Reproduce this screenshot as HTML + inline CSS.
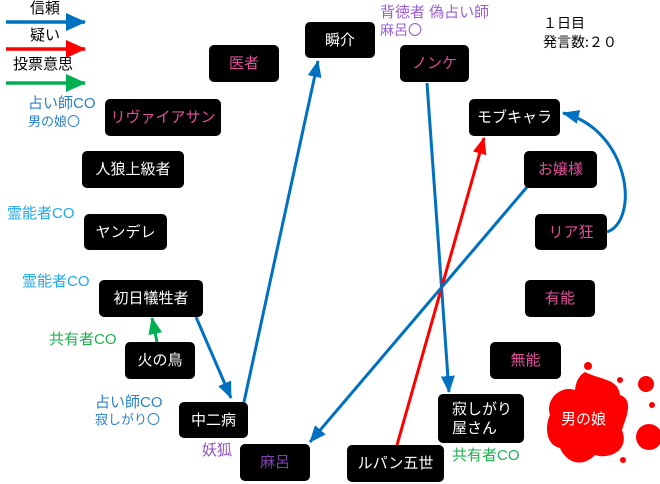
<!DOCTYPE html>
<html><head><meta charset="utf-8"><style>
body{margin:0;width:660px;height:484px;background:#fff;position:relative;overflow:hidden;font-family:"Liberation Sans","Noto Sans CJK JP",sans-serif}
.b{position:absolute;background:#000;border-radius:5px;color:#fff;font-size:15px;display:flex;align-items:center;justify-content:center;text-align:center;line-height:19px}
.p{color:#e0509a}.v{color:#8040b0}
.t{position:absolute;font-size:15px;line-height:16px;white-space:nowrap}
.c{font-family:"Noto Sans CJK JP",sans-serif}
svg{position:absolute;left:0;top:0}
</style></head><body>
<svg width="660" height="484">
<defs>
<marker id="mb" markerUnits="userSpaceOnUse" markerWidth="17" markerHeight="14" refX="16" refY="7" orient="auto"><path d="M0,0 L17,7 L0,14z" fill="#0070c0"/></marker>
<marker id="mr" markerUnits="userSpaceOnUse" markerWidth="17" markerHeight="14" refX="16" refY="7" orient="auto"><path d="M0,0 L17,7 L0,14z" fill="#ff0000"/></marker>
<marker id="mg" markerUnits="userSpaceOnUse" markerWidth="17" markerHeight="14" refX="16" refY="7" orient="auto"><path d="M0,0 L17,7 L0,14z" fill="#00b050"/></marker>
<marker id="lb" markerUnits="userSpaceOnUse" markerWidth="20" markerHeight="18" refX="19" refY="9" orient="auto"><path d="M0,0 L20,9 L0,18z" fill="#0070c0"/></marker>
<marker id="lr" markerUnits="userSpaceOnUse" markerWidth="20" markerHeight="18" refX="19" refY="9" orient="auto"><path d="M0,0 L20,9 L0,18z" fill="#ff0000"/></marker>
<marker id="lg" markerUnits="userSpaceOnUse" markerWidth="20" markerHeight="18" refX="19" refY="9" orient="auto"><path d="M0,0 L20,9 L0,18z" fill="#00b050"/></marker>
</defs>
<line x1="6" y1="22" x2="85" y2="22" stroke="#0070c0" stroke-width="3.5" marker-end="url(#lb)"/>
<line x1="6" y1="49" x2="85" y2="49" stroke="#ff0000" stroke-width="3.5" marker-end="url(#lr)"/>
<line x1="6" y1="83" x2="85" y2="83" stroke="#00b050" stroke-width="3.5" marker-end="url(#lg)"/>
<line x1="244" y1="402" x2="318" y2="61" stroke="#0070c0" stroke-width="3" marker-end="url(#mb)"/>
<line x1="427" y1="83" x2="449" y2="392" stroke="#0070c0" stroke-width="3" marker-end="url(#mb)"/>
<line x1="397" y1="445" x2="484" y2="138" stroke="#ff0000" stroke-width="3" marker-end="url(#mr)"/>
<line x1="527" y1="187" x2="310" y2="442" stroke="#0070c0" stroke-width="3" marker-end="url(#mb)"/>
<path d="M607,232 C640,220 630,130 563,113" fill="none" stroke="#0070c0" stroke-width="3" marker-end="url(#mb)"/>
<line x1="196" y1="317" x2="231" y2="398" stroke="#0070c0" stroke-width="3" marker-end="url(#mb)"/>
<line x1="157" y1="342" x2="152" y2="318" stroke="#00b050" stroke-width="3" marker-end="url(#mg)"/>
<g fill="#ff0000">
<path d="M585,372 C600,380 618,378 620,395 C635,400 625,420 622,430 C630,450 610,460 595,455 C580,470 565,460 560,448 C545,445 545,425 550,415 C545,400 560,385 575,390 C576,380 580,375 585,372z"/>
<circle cx="646" cy="384" r="8"/><circle cx="649" cy="437" r="13"/><circle cx="588" cy="366" r="4"/><circle cx="620" cy="380" r="3"/><circle cx="623" cy="460" r="3"/><circle cx="652" cy="405" r="3"/>
</g>
</svg>
<div class="t" style="left:30px;top:1px">信頼</div>
<div class="t" style="left:30px;top:28px">疑い</div>
<div class="t" style="left:13px;top:57px">投票意思</div>
<div class="t" style="left:28px;top:96px;color:#2a80c8">占い師CO</div>
<div class="t c" style="left:28px;top:113px;color:#2a80c8;font-size:13px">男の娘〇</div>
<div class="t" style="left:7px;top:206px;color:#20a8e8">霊能者CO</div>
<div class="t" style="left:22px;top:274px;color:#20a8e8">霊能者CO</div>
<div class="t" style="left:49px;top:332px;color:#20b050">共有者CO</div>
<div class="t" style="left:95px;top:395px;color:#2a80c8">占い師CO</div>
<div class="t c" style="left:95px;top:411px;color:#2a80c8;font-size:13px">寂しがり〇</div>
<div class="t" style="left:202px;top:443px;color:#9050c0">妖狐</div>
<div class="t" style="left:380px;top:5px;color:#9a60d0">背徳者 偽占い師</div>
<div class="t c" style="left:380px;top:22px;color:#9a60d0;font-size:14px">麻呂〇</div>
<div class="t c" style="left:543px;top:15px;font-size:14px">１日目</div>
<div class="t c" style="left:543px;top:34px;font-size:14px">発言数:２０</div>
<div class="t" style="left:452px;top:448px;color:#20b050">共有者CO</div>
<div class="b p" style="left:209px;top:45px;width:70px;height:37px">医者</div>
<div class="b" style="left:305px;top:22px;width:70px;height:36px">瞬介</div>
<div class="b p" style="left:400px;top:45px;width:69px;height:37px">ノンケ</div>
<div class="b p" style="left:105px;top:99px;width:116px;height:37px">リヴァイアサン</div>
<div class="b" style="left:469px;top:99px;width:91px;height:37px">モブキャラ</div>
<div class="b" style="left:82px;top:151px;width:102px;height:37px">人狼上級者</div>
<div class="b p" style="left:524px;top:151px;width:73px;height:37px">お嬢様</div>
<div class="b" style="left:84px;top:214px;width:83px;height:36px">ヤンデレ</div>
<div class="b p" style="left:535px;top:214px;width:72px;height:36px">リア狂</div>
<div class="b" style="left:99px;top:280px;width:104px;height:37px">初日犠牲者</div>
<div class="b p" style="left:525px;top:280px;width:70px;height:37px">有能</div>
<div class="b" style="left:125px;top:342px;width:70px;height:37px">火の鳥</div>
<div class="b p" style="left:490px;top:342px;width:71px;height:37px">無能</div>
<div class="b" style="left:179px;top:402px;width:69px;height:36px">中二病</div>
<div class="b" style="left:438px;top:394px;width:86px;height:49px;justify-content:flex-start;padding-left:14px;box-sizing:border-box;text-align:left">寂しがり<br>屋さん</div>
<div class="b v" style="left:240px;top:444px;width:70px;height:37px">麻呂</div>
<div class="b" style="left:347px;top:445px;width:97px;height:37px">ルパン五世</div>
<div class="t" style="left:561px;top:412px;color:#fff">男の娘</div>
</body></html>
